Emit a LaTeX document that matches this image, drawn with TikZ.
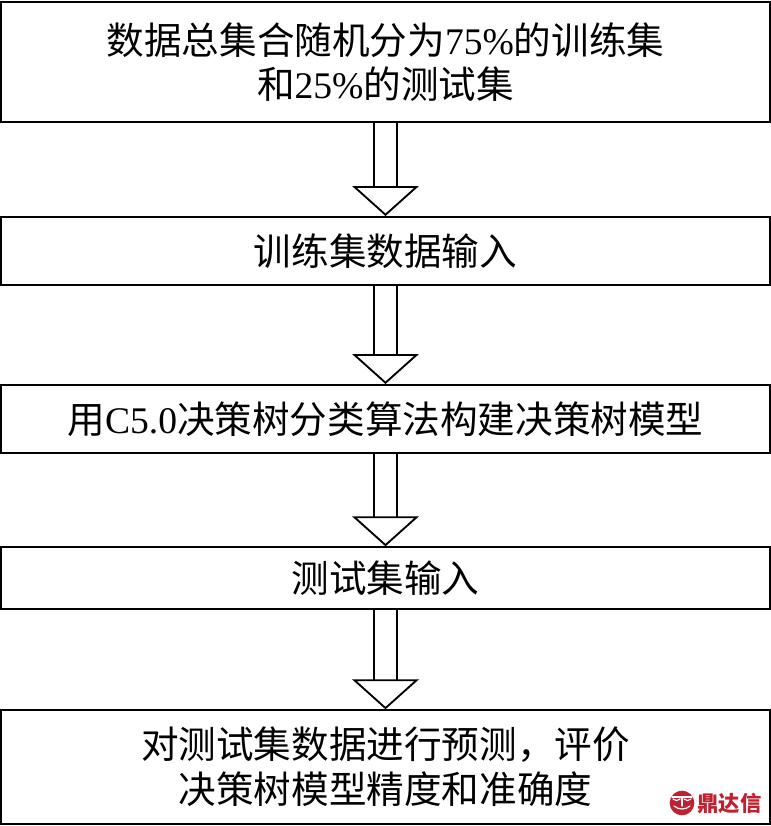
\documentclass[tikz,border=0pt]{standalone}
\usepackage{fontspec}
\setmainfont{Liberation Serif}
\newfontfamily\cjk{Noto Sans CJK SC}
\usetikzlibrary{arrows.meta}
\definecolor{markred}{HTML}{BE2230}
\begin{document}
\begin{tikzpicture}
    [
    x=0.75pt,y=-0.75pt,
    stepbox/.style={rectangle,draw,line width=1.5pt,inner sep=0pt,minimum width=576.5pt,align=center,font=\fontsize{28.2}{33.5}\selectfont},
    push/.style={execute at begin node={\vspace{#1}}},
    hollow/.style={double,double distance=15.5pt,line width=1.4pt,-{Triangle[open,fill=white,length=22.5pt,width=50pt,line width=1.4pt]},shorten >=0pt},
    face/.style={draw=white,line width=0.9pt,line cap=round}
    ]
    \useasboundingbox (0,0) rectangle (771,826);
    \node (split) at (385.5,62) [stepbox,push=6.5pt,minimum height=90pt] {\cjk 数据总集合随机分为\rmfamily 75\%\cjk 的训练集\\\cjk 和\rmfamily 25\%\cjk 的测试集};
    \node (train) at (385.5,251) [stepbox,push=3pt,minimum height=51pt] {\cjk 训练集数据输入};
    \node (build) at (385.5,419) [stepbox,push=2pt,minimum height=51pt] {\cjk 用\rmfamily C5.0\cjk 决策树分类算法构建决策树模型};
    \node (test) at (385.5,578) [stepbox,push=6pt,minimum height=46pt] {\cjk 测试集输入};
    \node (eval) at (385.5,767) [stepbox,push=11pt,minimum height=85pt] {\cjk 对测试集数据进行预测，评价\\\cjk 决策树模型精度和准确度};
    \draw [hollow] (split) to (train);
    \draw [hollow] (train) to (build);
    \draw [hollow] (build) to (test);
    \draw [hollow] (test) to (eval);
    % watermark
    \node (logo) at (682,803) [circle,fill=markred,minimum size=18.5pt,inner sep=0pt] {};
    \draw [face] (672,797) -- (692,797);
    \draw [face] (682,797) -- (682,806);
    \draw [face] (673,799) to [bend right=50] (680,799);
    \draw [face] (684,799) to [bend right=50] (691,799);
    \draw [face] (674,806) to [bend right=40] (690,806);
    \node (brand) at (729.5,803) [text=markred,inner sep=0pt,font=\cjk\bfseries\fontsize{16}{16}\selectfont] {鼎达信};
\end{tikzpicture}
\end{document}
